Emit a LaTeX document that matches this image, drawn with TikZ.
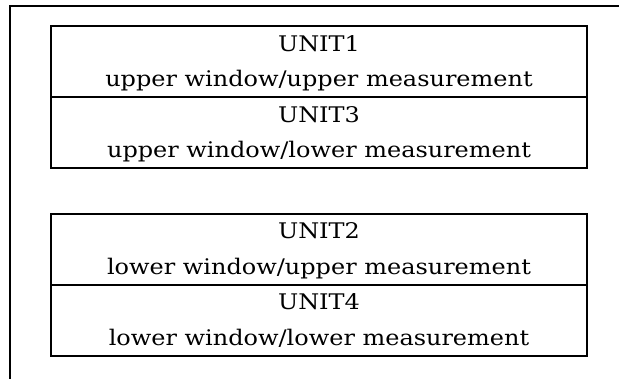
\documentclass[tikz,border=0pt]{standalone}
\usepackage{fontspec}
\setmainfont{DejaVu Serif}
\newcommand{\widetxt}[1]{\scalebox{1.115}[1]{#1}}
\begin{document}
\begin{tikzpicture}[x=1pt,y=1pt,line width=2pt,
  unitbox/.style={draw, minimum width=536pt, minimum height=71pt, inner sep=0pt},
  lbl/.style={anchor=base, inner sep=0pt, font=\fontsize{21.5}{26}\selectfont}]
\useasboundingbox (0,0) rectangle (619,379);
\clip (0,0) rectangle (619,379);
\coordinate (fa) at (10,-5);
\coordinate (fb) at (10,373);
\coordinate (fc) at (630,373);
\draw (fa) -- (fb) -- (fc);
\node[unitbox] (u1) at (319,317.3) {};
\node[unitbox] (u3) at (319,246.0) {};
\node[unitbox] (u2) at (319,129.7) {};
\node[unitbox] (u4) at (319,58.5) {};
\node[lbl] (u1a) at ([yshift=-26pt]u1.north) {\widetxt{UNIT1}};
\node[lbl] (u1b) at ([yshift=-61.5pt]u1.north) {\widetxt{upper window/upper measurement}};
\node[lbl] (u3a) at ([yshift=-26pt]u3.north) {\widetxt{UNIT3}};
\node[lbl] (u3b) at ([yshift=-61.5pt]u3.north) {\widetxt{upper window/lower measurement}};
\node[lbl] (u2a) at ([yshift=-26pt]u2.north) {\widetxt{UNIT2}};
\node[lbl] (u2b) at ([yshift=-61.5pt]u2.north) {\widetxt{lower window/upper measurement}};
\node[lbl] (u4a) at ([yshift=-26pt]u4.north) {\widetxt{UNIT4}};
\node[lbl] (u4b) at ([yshift=-61.5pt]u4.north) {\widetxt{lower window/lower measurement}};
\end{tikzpicture}
\end{document}
